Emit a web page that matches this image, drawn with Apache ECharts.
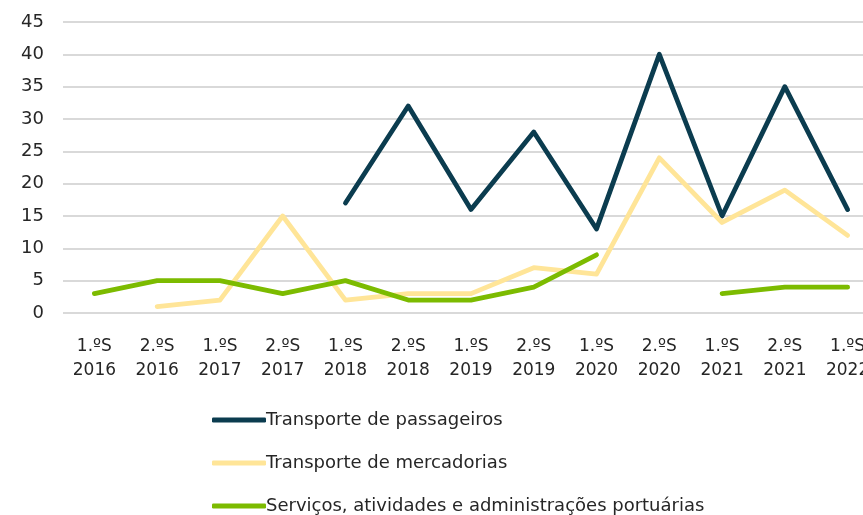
<!DOCTYPE html>
<html>
<head>
<meta charset="utf-8">
<script src="https://cdn.jsdelivr.net/npm/echarts@6/dist/echarts.min.js"></script>
<style>
  html, body { margin: 0; padding: 0; background: #ffffff; overflow: hidden; width: 863px; height: 515px; }
  /* the plot runs past the right edge of the page, so the last semester is cut off */
  #chart { width: 879px; height: 515px; }
</style>
</head>
<body>
<div id="chart"></div>
<script>
// Semesters on the horizontal axis
const semesters = ['1.ºS', '2.ºS', '1.ºS', '2.ºS', '1.ºS', '2.ºS', '1.ºS', '2.ºS', '1.ºS', '2.ºS', '1.ºS', '2.ºS', '1.ºS'];
const years = ['2016', '2016', '2017', '2017', '2018', '2018', '2019', '2019', '2020', '2020', '2021', '2021', '2022'];

// Series values per semester (null = no value)
const passageiros = [null, null, null, null, 17, 32, 16, 28, 13, 40, 15, 35, 16];
const mercadorias = [null, 1, 2, 15, 2, 3, 3, 7, 6, 24, 14, 19, 12];
const servicos = [3, 5, 5, 3, 5, 2, 2, 4, 9, null, 3, 4, 4];

const seriesNames = [
  'Transporte de passageiros',
  'Transporte de mercadorias',
  'Serviços, atividades e administrações portuárias'
];
const seriesColors = ['#0b3c4f', '#ffe598', '#7cbb00'];

const categories = semesters.map((s, i) => s + '\n' + years[i]);

const fontFamily = '"DejaVu Sans", "Noto Sans", sans-serif';
const textColor = '#262626';

function lineSeries(name, data, color) {
  return {
    name: name,
    type: 'line',
    data: data,
    symbol: 'none',
    connectNulls: false,
    lineStyle: { color: color, width: 4.8, cap: 'round', join: 'round' },
    itemStyle: { color: color },
    emphasis: { disabled: true }
  };
}

// one legend row per series, stacked below the axis
const legendTops = [406, 449, 492];
const legends = seriesNames.map((name, i) => ({
  orient: 'vertical',
  left: 207,
  top: legendTops[i],
  itemWidth: 54,
  itemHeight: 5,
  icon: 'roundRect',
  textStyle: { fontFamily: fontFamily, fontSize: 18, color: textColor, padding: [0, 0, 0, -5] },
  data: [name]
}));

const chart = echarts.init(document.getElementById('chart'), null, { renderer: 'canvas' });
chart.setOption({
  animation: false,
  backgroundColor: '#ffffff',
  grid: { left: 63, right: 0, top: 22, bottom: 202, containLabel: false },
  legend: legends,
  xAxis: {
    type: 'category',
    data: categories,
    boundaryGap: true,
    axisLine: { show: false },
    axisTick: { show: false },
    axisLabel: {
      interval: 0,
      margin: 22,
      fontFamily: fontFamily,
      fontSize: 17,
      lineHeight: 24,
      color: textColor
    }
  },
  yAxis: {
    type: 'value',
    min: 0,
    max: 45,
    interval: 5,
    axisLine: { show: false },
    axisTick: { show: false },
    axisLabel: { margin: 19, fontFamily: fontFamily, fontSize: 18, color: textColor },
    splitLine: { lineStyle: { color: '#d9d9d9', width: 2 } }
  },
  series: [
    lineSeries(seriesNames[0], passageiros, seriesColors[0]),
    lineSeries(seriesNames[1], mercadorias, seriesColors[1]),
    lineSeries(seriesNames[2], servicos, seriesColors[2])
  ]
});
</script>
</body>
</html>
